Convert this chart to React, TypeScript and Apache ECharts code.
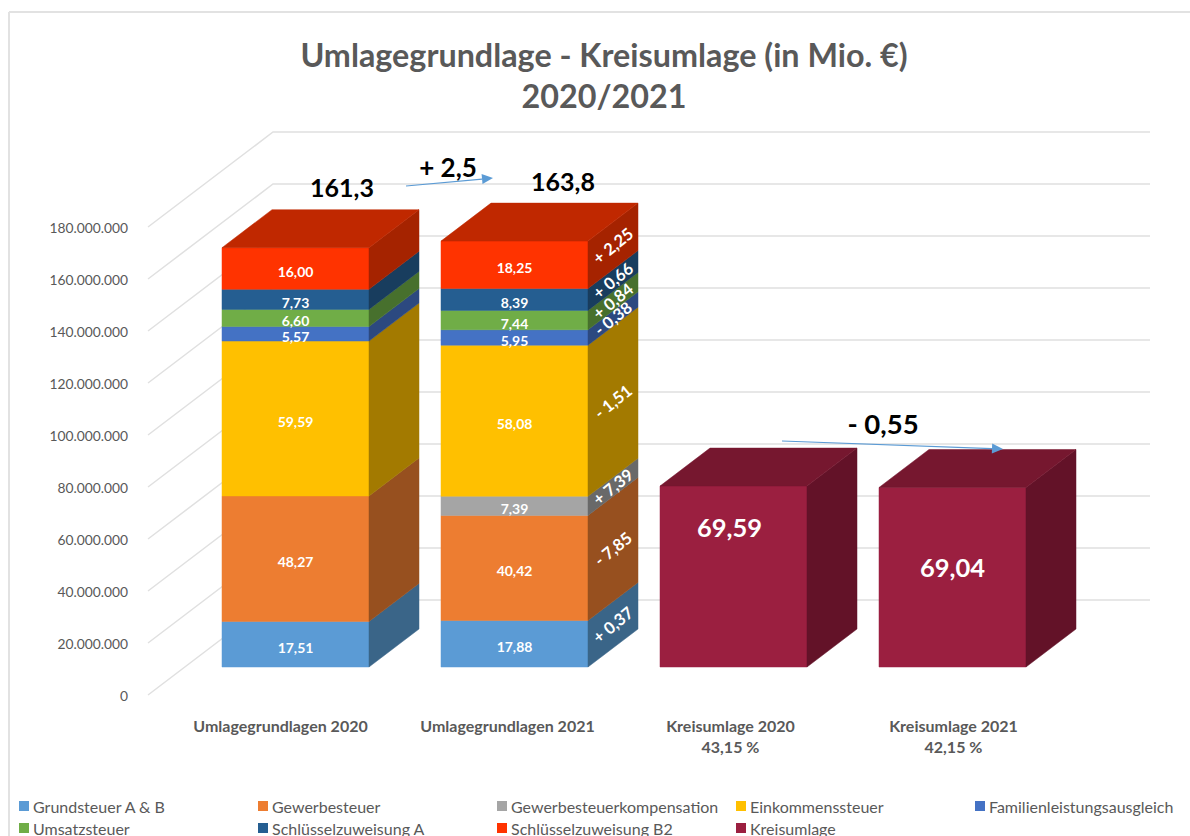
import React, { useEffect, useRef } from "react";
import * as echarts from "echarts";

const categories = [
  "Umlagegrundlagen 2020",
  "Umlagegrundlagen 2021",
  "Kreisumlage 2020\n43,15 %",
  "Kreisumlage 2021\n42,15 %",
];
const labelShift = [0, 16, 24, 32];

const axisTicks = [0, 20000000, 40000000, 60000000, 80000000, 100000000, 120000000, 140000000, 160000000, 180000000];

const grundsteuer = [17510000, 17880000, null, null];
const gewerbesteuer = [48270000, 40420000, null, null];
const kompensation = [null, 7390000, null, null];
const einkommenssteuer = [59590000, 58080000, null, null];
const familienleistung = [5570000, 5950000, null, null];
const umsatzsteuer = [6600000, 7440000, null, null];
const zuweisungA = [7730000, 8390000, null, null];
const zuweisungB2 = [16000000, 18250000, null, null];
const kreisumlage = [null, null, 69590000, 69040000];

const sideGrundsteuer = ["", "+ 0,37", "", ""];
const sideGewerbe = ["", "- 7,85", "", ""];
const sideKompensation = ["", "+ 7,39", "", ""];
const sideEinkommen = ["", "- 1,51", "", ""];
const sideFamilien = ["", "- 0,38", "", ""];
const sideUmsatz = ["", "+ 0,84", "", ""];
const sideZuweisungA = ["", "+ 0,66", "", ""];
const sideZuweisungB2 = ["", "+ 2,25", "", ""];
const sideKreis = ["", "", "", ""];

const stackDefs = [
  { name: "Grundsteuer A & B", values: grundsteuer, side: sideGrundsteuer, front: "#5B9BD5", dark: "#3A6588", top: "#44749F" },
  { name: "Gewerbesteuer", values: gewerbesteuer, side: sideGewerbe, front: "#ED7D31", dark: "#97501F", top: "#B25E25" },
  { name: "Gewerbesteuerkompensation", values: kompensation, side: sideKompensation, front: "#A5A5A5", dark: "#696969", top: "#7C7C7C" },
  { name: "Einkommenssteuer", values: einkommenssteuer, side: sideEinkommen, front: "#FFC000", dark: "#A37A00", top: "#BF9000" },
  { name: "Familienleistungsausgleich", values: familienleistung, side: sideFamilien, front: "#4472C4", dark: "#2C4980", top: "#335693" },
  { name: "Umsatzsteuer", values: umsatzsteuer, side: sideUmsatz, front: "#70AD47", dark: "#47702D", top: "#548235" },
  { name: "Schlüsselzuweisung A", values: zuweisungA, side: sideZuweisungA, front: "#255E91", dark: "#183D5E", top: "#1C476D" },
  { name: "Schlüsselzuweisung B2", values: zuweisungB2, side: sideZuweisungB2, front: "#FF3300", dark: "#A52300", top: "#C02800" },
  { name: "Kreisumlage", values: kreisumlage, side: sideKreis, front: "#9B1F40", dark: "#631228", top: "#76172F" },
];

const legendColumns = [19, 258, 497, 736, 975];
const legendRows = [798, 820];

const FONT = "Lato, Carlito, 'Open Sans', sans-serif";
const GRAY = "#595959";
const BAR_WIDTH = 147;
const BAR_CENTER_SHIFT = 15;
const BAR_BASE_LIFT = 28;
const DEPTH_X = 50;
const DEPTH_Y = 38;

const fmtAxis = (v: number) => String(v).replace(/\B(?=(\d{3})+(?!\d))/g, ".");
const fmtMio = (v: number) => (v / 1000000).toFixed(2).replace(".", ",");

const totals = categories.map((_, c) => stackDefs.reduce((s, d) => s + (d.values[c] || 0), 0));

function wallSeries() {
  return {
    type: "custom",
    silent: true,
    clip: false,
    z: 1,
    encode: { x: 0, y: 1 },
    data: axisTicks.map((t) => [0, t]),
    renderItem: (_: any, api: any) => {
      const y = api.coord([0, api.value(1)])[1];
      return {
        type: "polyline",
        shape: { points: [[148, y], [273, y - 95], [1150, y - 95]] },
        style: { stroke: "#e0e0e0", lineWidth: 1.5, fill: "none" },
      };
    },
  };
}

function barSeries(def: (typeof stackDefs)[number], defIndex: number) {
  const data = categories
    .map((_, c) => {
      const v = def.values[c];
      if (v == null) return null;
      const base = stackDefs.slice(0, defIndex).reduce((s, d) => s + (d.values[c] || 0), 0);
      return [c, base, base + v, v];
    })
    .filter(Boolean);
  return {
    type: "custom",
    name: def.name,
    clip: false,
    z: 2 + defIndex,
    itemStyle: { color: def.front },
    encode: { x: 0, y: 2 },
    data,
    renderItem: (_: any, api: any) => {
      const c = api.value(0);
      const lo = api.coord([c, api.value(1)]);
      const hi = api.coord([c, api.value(2)]);
      const v = api.value(3);
      const x0 = lo[0] + BAR_CENTER_SHIFT - BAR_WIDTH / 2;
      const x1 = x0 + BAR_WIDTH;
      const yb = lo[1] - BAR_BASE_LIFT;
      const yt = hi[1] - BAR_BASE_LIFT;
      const poly = (points: number[][], fill: string) => ({
        type: "polygon",
        shape: { points },
        style: { fill, stroke: fill, lineWidth: 0.5 },
      });
      const children: any[] = [
        poly([[x0, yb], [x1, yb], [x1, yt], [x0, yt]], def.front),
        poly([[x1, yb], [x1 + DEPTH_X, yb - DEPTH_Y], [x1 + DEPTH_X, yt - DEPTH_Y], [x1, yt]], def.dark),
      ];
      if (api.value(2) === totals[c]) {
        children.push(poly([[x0, yt], [x1, yt], [x1 + DEPTH_X, yt - DEPTH_Y], [x0 + DEPTH_X, yt - DEPTH_Y]], def.top));
      }
      const isKreis = def.name === "Kreisumlage";
      const labelLift = isKreis ? (c === 2 ? 50 : 10) : -3;
      children.push({
        type: "text",
        x: (x0 + x1) / 2 + (isKreis && c === 2 ? -4 : 0),
        y: (yb + yt) / 2 - labelLift,
        style: {
          text: fmtMio(v),
          fill: "#ffffff",
          fontFamily: FONT,
          fontWeight: "bold",
          fontSize: isKreis ? 25.5 : 14,
          align: "center",
          verticalAlign: "middle",
        },
      });
      const side = def.side[c];
      if (side) {
        children.push({
          type: "text",
          x: x1 + DEPTH_X / 2,
          y: (yb + yt) / 2 - DEPTH_Y / 2,
          rotation: 0.68,
          style: {
            text: side,
            fill: "#ffffff",
            fontFamily: FONT,
            fontWeight: "bold",
            fontSize: 16.5,
            align: "center",
            verticalAlign: "middle",
          },
        });
      }
      return { type: "group", children };
    },
  };
}

const annotationText = (text: string, x: number, y: number, fontSize: number) => ({
  type: "text",
  x,
  y,
  z: 50,
  style: {
    text,
    fill: "#000000",
    fontFamily: FONT,
    fontWeight: "bold",
    fontSize,
    align: "center",
    verticalAlign: "middle",
  },
});

const arrow = (x1: number, y1: number, x2: number, y2: number) => {
  const a = Math.atan2(y2 - y1, x2 - x1);
  const L = 11;
  const W = 5;
  const bx = x2 - L * Math.cos(a);
  const by = y2 - L * Math.sin(a);
  return [
    {
      type: "line",
      z: 50,
      shape: { x1, y1, x2: bx, y2: by },
      style: { stroke: "#5B9BD5", lineWidth: 1.25 },
    },
    {
      type: "polygon",
      z: 50,
      shape: {
        points: [
          [x2, y2],
          [bx - W * Math.sin(a), by + W * Math.cos(a)],
          [bx + W * Math.sin(a), by - W * Math.cos(a)],
        ],
      },
      style: { fill: "#5B9BD5" },
    },
  ];
};

export default function App() {
  const ref = useRef<HTMLDivElement>(null);
  useEffect(() => {
    if (!ref.current) return;
    const chart = echarts.init(ref.current, undefined, { renderer: "svg" });
    chart.setOption({
      animation: false,
      backgroundColor: "#ffffff",
      title: {
        text: "Umlagegrundlage - Kreisumlage (in Mio. €)\n2020/2021",
        left: 599,
        top: 29,
        textAlign: "center",
        textStyle: {
          fontFamily: FONT,
          fontWeight: "bold",
          fontSize: 32.3,
          lineHeight: 41,
          color: GRAY,
        },
      },
      legend: stackDefs.map((d, i) => ({
        data: [d.name],
        left: legendColumns[i % 5],
        top: legendRows[Math.floor(i / 5)],
        itemWidth: 10,
        itemHeight: 10,
        itemGap: 0,
        padding: 0,
        icon: "rect",
        selectedMode: false,
        textStyle: { fontFamily: FONT, fontSize: 16, color: GRAY, padding: [0, 0, 0, -1] },
      })),
      grid: { left: 171, top: 227, width: 876, height: 468, containLabel: false },
      xAxis: {
        type: "category",
        data: categories.map((c, i) => ({
          value: c,
          textStyle: { padding: [0, 0, 0, labelShift[i]] },
        })),
        axisLine: { show: false },
        axisTick: { show: false },
        splitLine: { show: false },
        axisLabel: {
          interval: 0,
          margin: 20,
          fontFamily: FONT,
          fontWeight: "bold",
          fontSize: 16,
          lineHeight: 21,
          color: GRAY,
        },
      },
      yAxis: {
        type: "value",
        min: 0,
        max: 180000000,
        interval: 20000000,
        axisLine: { show: false },
        axisTick: { show: false },
        splitLine: { show: false },
        axisLabel: {
          margin: 43,
          formatter: fmtAxis,
          fontFamily: FONT,
          fontSize: 13.8,
          color: GRAY,
          padding: [2, 0, 0, 0],
        },
      },
      series: [wallSeries(), ...stackDefs.map((d, i) => barSeries(d, i))],
      graphic: [
        { type: "line", shape: { x1: 9, y1: 12, x2: 1190, y2: 12 }, style: { stroke: "#e2e2e2", lineWidth: 2 } },
        { type: "line", shape: { x1: 9, y1: 12, x2: 9, y2: 836 }, style: { stroke: "#e2e2e2", lineWidth: 2 } },
        annotationText("161,3", 342, 187, 25),
        annotationText("163,8", 563, 181, 25),
        annotationText("+ 2,5", 448, 167, 26),
        annotationText("- 0,55", 883, 423, 27.5),
        ...arrow(406, 186, 493, 178),
        ...arrow(782, 441, 1003, 449),
      ],
    });
    return () => chart.dispose();
  }, []);
  return <div ref={ref} style={{ position: "absolute", left: 0, top: 0, width: 1190, height: 836 }} />;
}
